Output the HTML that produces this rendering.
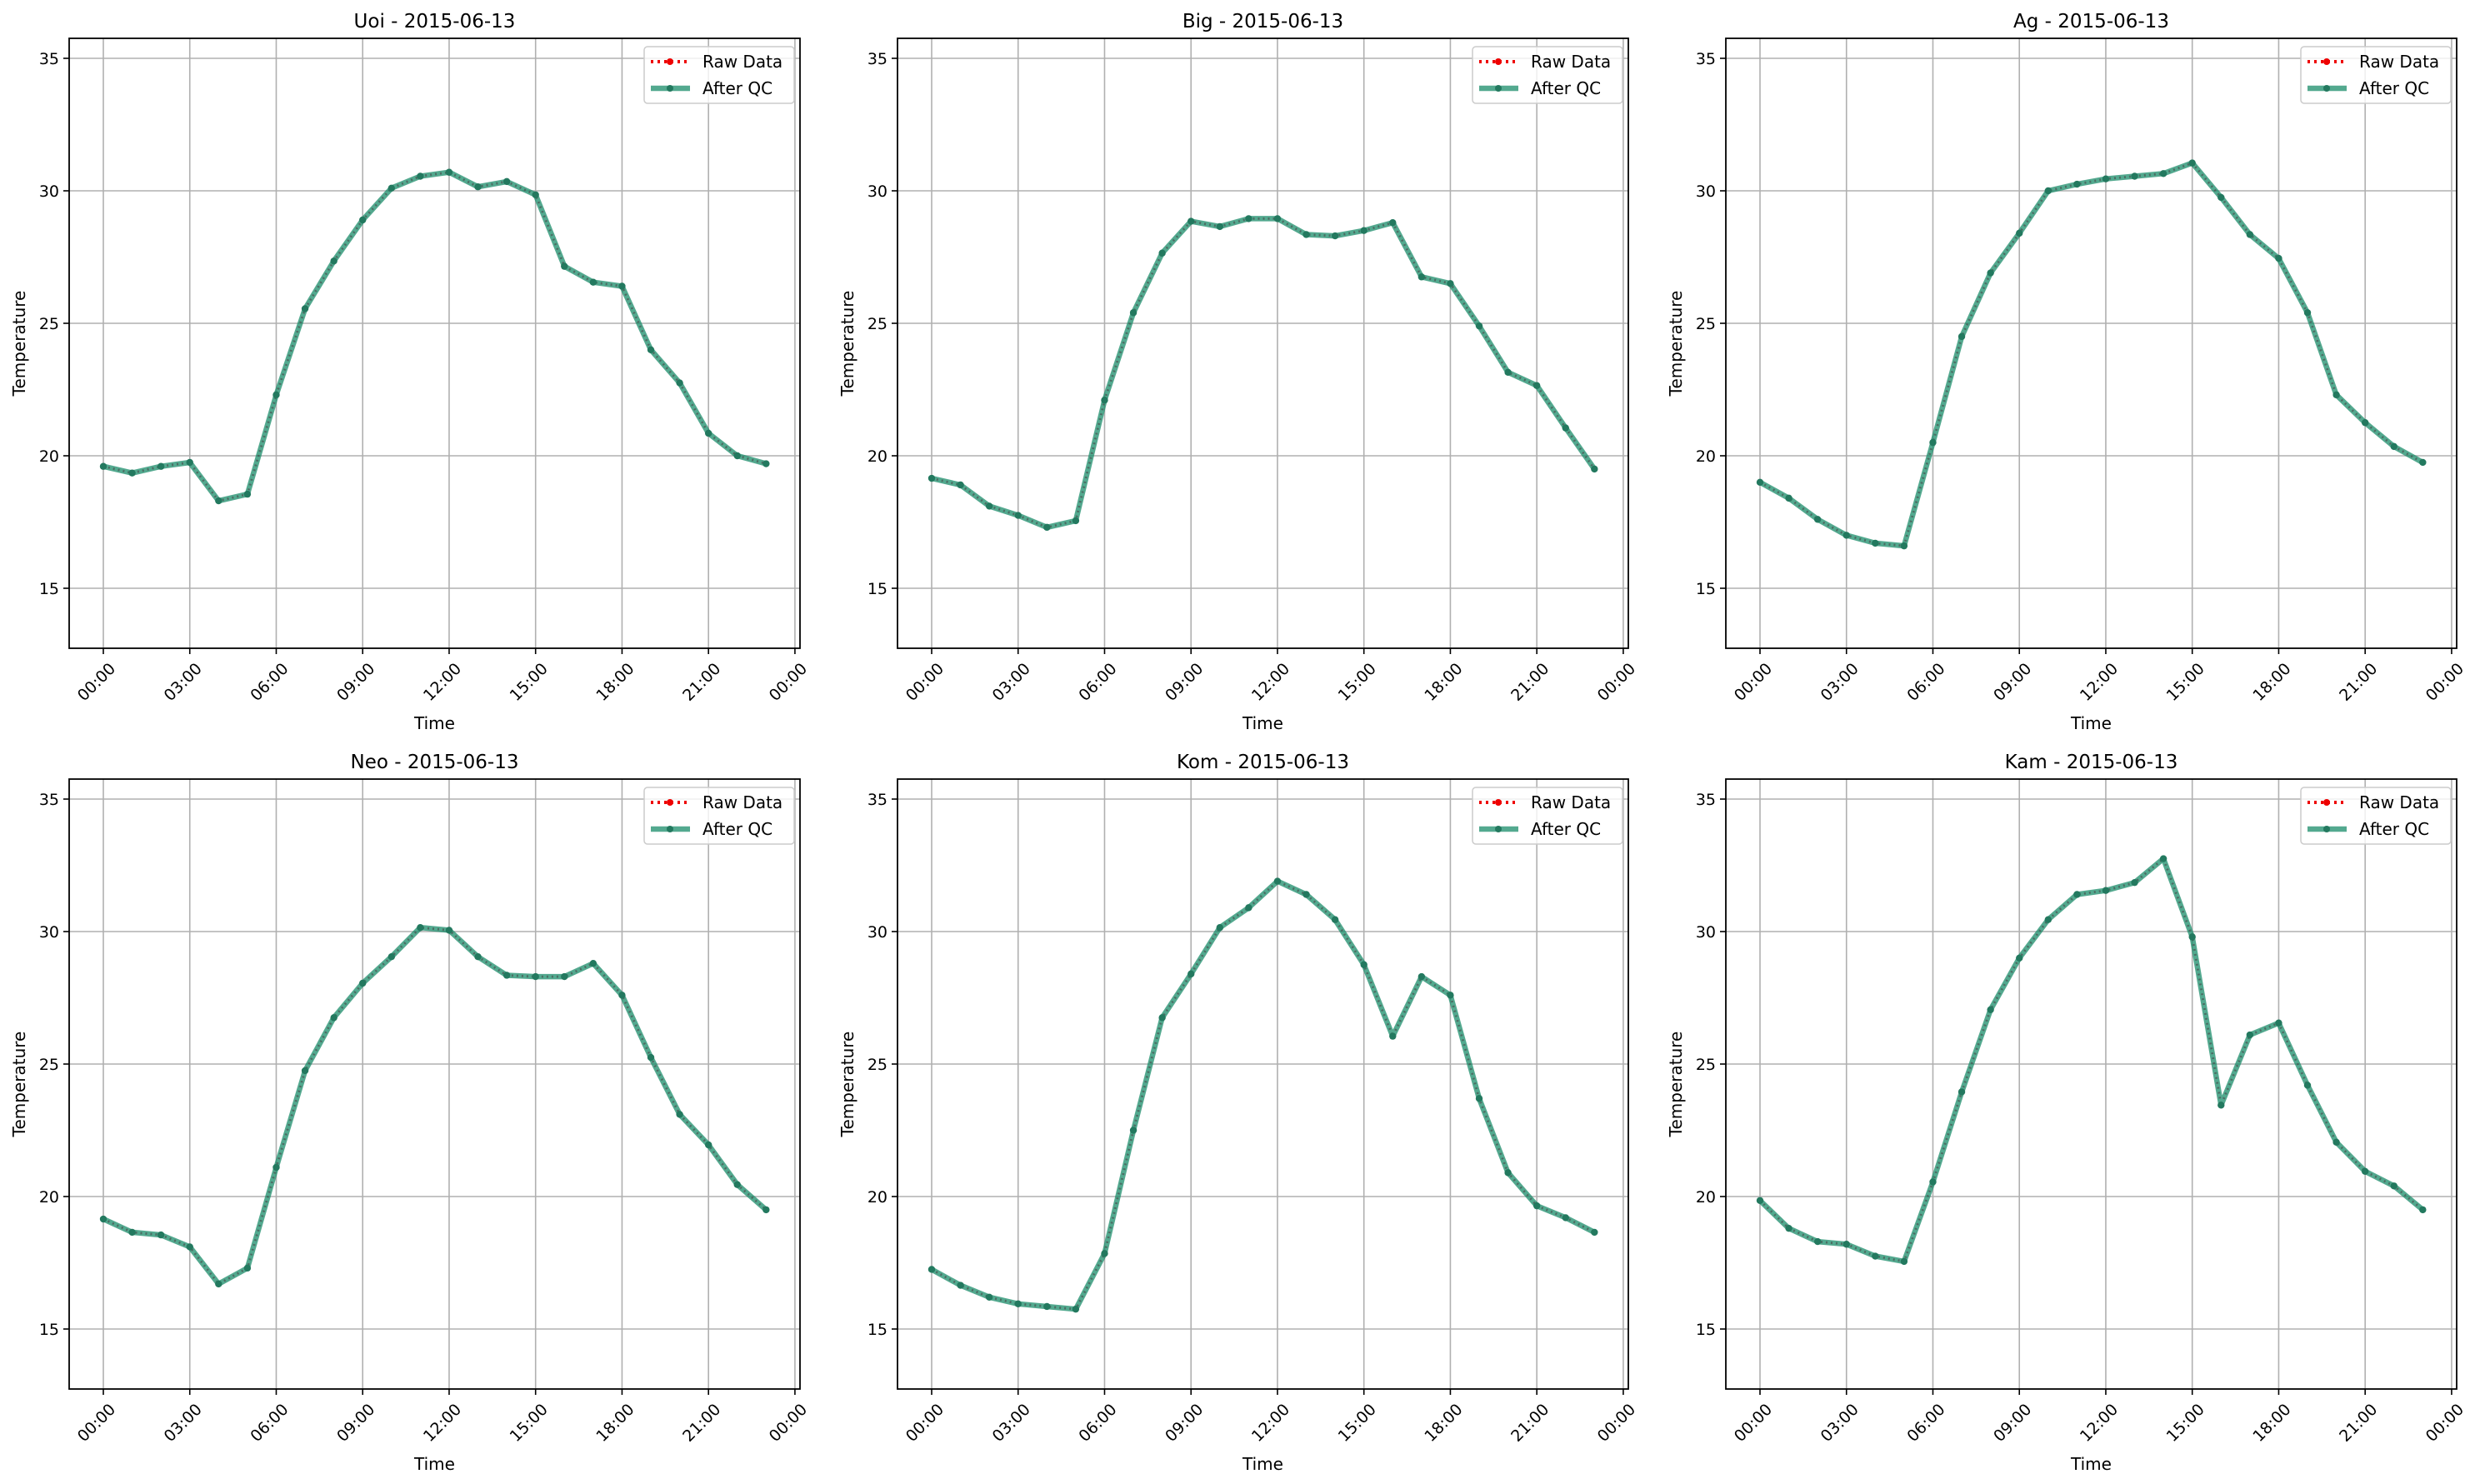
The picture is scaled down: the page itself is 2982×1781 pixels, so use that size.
<!DOCTYPE html>
<html><head><meta charset="utf-8"><style>
html,body{margin:0;padding:0;background:#fff;}
svg{display:block;font-family:"DejaVu Sans","Liberation Sans",sans-serif;}
</style></head><body>
<svg id="s" width="2982" height="1781" xmlns="http://www.w3.org/2000/svg"></svg>
<script>
const P=[
["Uoi - 2015-06-13",[19.6,19.35,19.6,19.75,18.3,18.55,22.3,25.55,27.35,28.9,30.1,30.55,30.7,30.15,30.35,29.85,27.15,26.55,26.4,24.0,22.75,20.85,20.0,19.7]],
["Big - 2015-06-13",[19.15,18.9,18.1,17.75,17.3,17.55,22.1,25.4,27.65,28.85,28.65,28.95,28.95,28.35,28.3,28.5,28.8,26.75,26.5,24.9,23.15,22.65,21.05,19.5]],
["Ag - 2015-06-13",[19.0,18.4,17.6,17.0,16.7,16.6,20.5,24.5,26.9,28.4,30.0,30.25,30.45,30.55,30.65,31.05,29.75,28.35,27.45,25.4,22.3,21.25,20.35,19.75]],
["Neo - 2015-06-13",[19.15,18.65,18.55,18.1,16.7,17.3,21.1,24.75,26.75,28.05,29.05,30.15,30.05,29.05,28.35,28.3,28.3,28.8,27.6,25.25,23.1,21.95,20.45,19.5]],
["Kom - 2015-06-13",[17.25,16.65,16.2,15.95,15.85,15.75,17.85,22.5,26.75,28.4,30.15,30.9,31.9,31.4,30.45,28.75,26.05,28.3,27.6,23.7,20.9,19.65,19.2,18.65]],
["Kam - 2015-06-13",[19.85,18.8,18.3,18.2,17.75,17.55,20.55,23.95,27.05,29.0,30.45,31.4,31.55,31.85,32.75,29.8,23.45,26.1,26.55,24.2,22.05,20.95,20.4,19.5]]];
const lefts=[83,1077,2071], tops=[46,935], W=877, H=732;
let o='';
P.forEach((p,i)=>{
 const L=lefts[i%3], T=tops[Math.floor(i/3)];
 const y35=T+24, y15=T+660, k=(y15-y35)/20;
 const Y=v=>y15-(v-15)*k, X=h=>L+41+h*34.58;
 for(let h=0;h<=24;h+=3){const x=X(h);o+=`<line x1="${x}" y1="${T}" x2="${x}" y2="${T+H}" stroke="#b0b0b0" stroke-width="1.6"/>`;
  o+=`<line x1="${x}" y1="${T+H}" x2="${x}" y2="${T+H+7}" stroke="#000" stroke-width="1.6"/>`;
  const lab=(h%24<10?'0':'')+(h%24)+':00';
  o+=`<text transform="translate(${x+6},${T+H+16}) rotate(-45)" text-anchor="end" dominant-baseline="hanging" font-size="19">${lab}</text>`;}
 for(let v=15;v<=35;v+=5){const y=Y(v);o+=`<line x1="${L}" y1="${y}" x2="${L+W}" y2="${y}" stroke="#b0b0b0" stroke-width="1.6"/>`;
  o+=`<line x1="${L-7}" y1="${y}" x2="${L}" y2="${y}" stroke="#000" stroke-width="1.6"/>`;
  o+=`<text x="${L-12}" y="${y+7}" text-anchor="end" font-size="19">${v}</text>`;}
 const pts=p[1].map((v,h)=>X(h).toFixed(1)+','+Y(v).toFixed(1)).join(' ');
 o+=`<polyline points="${pts}" fill="none" stroke="rgba(26,140,105,0.75)" stroke-width="6.5" stroke-linejoin="round"/>`;
 o+=`<polyline points="${pts}" fill="none" stroke="rgba(70,70,70,0.6)" stroke-width="2.8" stroke-dasharray="2,4"/>`;
 p[1].forEach((v,h)=>{o+=`<circle cx="${X(h)}" cy="${Y(v)}" r="4.2" fill="#23795f"/>`;});
 o+=`<rect x="${L}" y="${T}" width="${W}" height="${H}" fill="none" stroke="#000" stroke-width="1.8"/>`;
 o+=`<text x="${L+W/2}" y="${T-13}" text-anchor="middle" font-size="23">${p[0]}</text>`;
 o+=`<text x="${L+W/2}" y="${T+H+97}" text-anchor="middle" font-size="20">Time</text>`;
 o+=`<text transform="translate(${L-53},${T+H/2}) rotate(-90)" text-anchor="middle" font-size="20">Temperature</text>`;
 const lx=L+W-187, ly=T+10;
 o+=`<rect x="${lx}" y="${ly}" width="180" height="68" rx="4" fill="rgba(255,255,255,0.8)" stroke="#ccc" stroke-width="1.5"/>`;
 o+=`<line x1="${lx+8}" y1="${ly+18}" x2="${lx+55}" y2="${ly+18}" stroke="#e00" stroke-width="4" stroke-dasharray="3,5"/><circle cx="${lx+31}" cy="${ly+18}" r="4" fill="#e00"/>`;
 o+=`<text x="${lx+70}" y="${ly+25}" font-size="20">Raw Data</text>`;
 o+=`<line x1="${lx+8}" y1="${ly+50}" x2="${lx+55}" y2="${ly+50}" stroke="rgba(26,140,105,0.75)" stroke-width="6.5"/><circle cx="${lx+31}" cy="${ly+50}" r="4" fill="#23795f"/>`;
 o+=`<text x="${lx+70}" y="${ly+57}" font-size="20">After QC</text>`;
});
document.getElementById('s').innerHTML=o;
</script>
</body></html>
